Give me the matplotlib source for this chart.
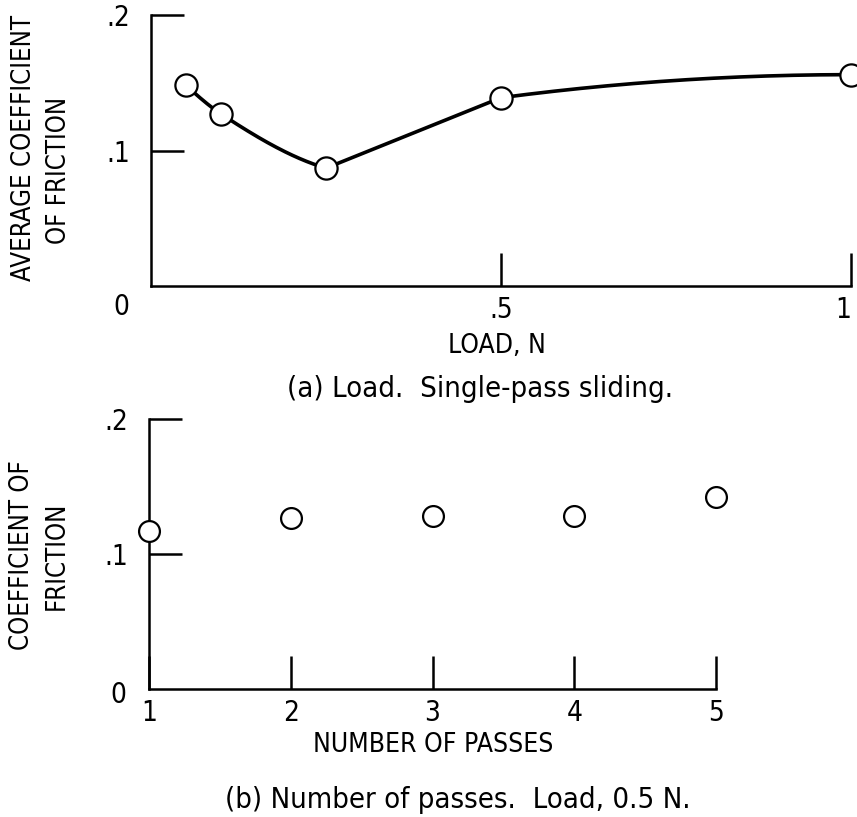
import numpy as np
import matplotlib.pyplot as plt
from matplotlib import font_manager

# (a) Load, single-pass sliding
load = [0.05, 0.1, 0.25, 0.5, 1.0]
mu_load = [0.148, 0.127, 0.087, 0.139, 0.156]

# (b) Number of passes, load 0.5 N
passes = [1, 2, 3, 4, 5]
mu_pass = [0.117, 0.127, 0.128, 0.128, 0.142]

names = {f.name for f in font_manager.fontManager.ttflist}
if 'Liberation Sans Narrow' in names:
    plt.rcParams['font.family'] = ['Liberation Sans Narrow', 'DejaVu Sans']
else:
    plt.rcParams['font.family'] = ['DejaVu Sans']
    plt.rcParams['font.stretch'] = 'condensed'
plt.rcParams['font.size'] = 20


def pchip(x, y, xs):
    x = np.asarray(x, float)
    y = np.asarray(y, float)
    h = np.diff(x)
    d = np.diff(y) / h
    n = len(x)
    m = np.zeros(n)
    for k in range(1, n - 1):
        if d[k - 1] * d[k] > 0:
            w1 = 2 * h[k] + h[k - 1]
            w2 = h[k] + 2 * h[k - 1]
            m[k] = (w1 + w2) / (w1 / d[k - 1] + w2 / d[k])

    def end(h0, h1, d0, d1):
        s = ((2 * h0 + h1) * d0 - h0 * d1) / (h0 + h1)
        if np.sign(s) != np.sign(d0):
            s = 0.0
        return s

    m[0] = end(h[0], h[1], d[0], d[1])
    m[-1] = end(h[-1], h[-2], d[-1], d[-2])
    i = np.clip(np.searchsorted(x, xs) - 1, 0, n - 2)
    t = (xs - x[i]) / h[i]
    h00 = 2 * t**3 - 3 * t**2 + 1
    h10 = t**3 - 2 * t**2 + t
    h01 = -2 * t**3 + 3 * t**2
    h11 = t**3 - t**2
    return h00 * y[i] + h10 * h[i] * m[i] + h01 * y[i + 1] + h11 * h[i] * m[i + 1]


# faired curve: smooth through the first three, straight to 0.5 N, levelling off to 1 N
xa = np.linspace(load[0], load[2], 80)
ya = pchip(load[:3], mu_load[:3], xa)
xb = np.linspace(load[2], load[3], 30)
yb = np.interp(xb, load[2:4], mu_load[2:4])
xc = np.linspace(load[3], load[4], 80)
yc = mu_load[4] - (mu_load[4] - mu_load[3]) * ((load[4] - xc) / (load[4] - load[3]))**2
curve_x = np.concatenate([xa, xb, xc])
curve_y = np.concatenate([ya, yb, yc])

fig = plt.figure(figsize=(8.57, 8.17), dpi=100)


def style(ax):
    for s in ['top', 'right']:
        ax.spines[s].set_visible(False)
    for s in ['left', 'bottom']:
        ax.spines[s].set_linewidth(1.8)
    ax.tick_params(axis='both', direction='in', width=1.8, length=24)
    ax.tick_params(axis='y', pad=15)


# ---- (a) ----
ax1 = fig.add_axes([0.1762, 0.6499, 0.8168, 0.3317])
ax1.plot(curve_x, curve_y, color='black', lw=2.6, zorder=2)
ax1.plot(load, mu_load, 'o', ms=16, mfc='white', mec='black', mew=1.6,
         zorder=3, clip_on=False)
ax1.set_xlim(0, 1)
ax1.set_ylim(0, 0.2)
ax1.set_xticks([0.5, 1])
ax1.set_xticklabels(['.5', '1'])
ax1.set_yticks([0.1, 0.2])
ax1.set_yticklabels(['.1', '.2'])
style(ax1)
ax1.tick_params(axis='x', pad=7)
ax1.get_xticklabels()[-1].set_horizontalalignment('right')
ax1.text(-0.043, -0.077, '0', transform=ax1.transAxes, ha='center', va='center')

fig.text(497 / 857, 1 - 346 / 817, 'LOAD, N', ha='center', va='center', fontsize=19)
fig.text(480 / 857, 1 - 389 / 817, '(a) Load.  Single-pass sliding.',
         ha='center', va='center', fontsize=21)
fig.text(24 / 857, 1 - 148 / 817, 'AVERAGE COEFFICIENT', rotation=90,
         ha='center', va='center', fontsize=18.5)
fig.text(59 / 857, 1 - 170 / 817, 'OF FRICTION', rotation=90,
         ha='center', va='center', fontsize=18.5)

# ---- (b) ----
ax2 = fig.add_axes([0.1739, 0.1567, 0.6616, 0.3304])
ax2.plot(passes, mu_pass, 'o', ms=15, mfc='white', mec='black', mew=1.6,
         zorder=3, clip_on=False)
ax2.set_xlim(1, 5)
ax2.set_ylim(0, 0.2)
ax2.set_xticks(passes)
ax2.set_xticklabels([str(p) for p in passes])
ax2.set_yticks([0.1, 0.2])
ax2.set_yticklabels(['.1', '.2'])
style(ax2)
ax2.tick_params(axis='x', pad=7)
ax2.text(-0.055, -0.022, '0', transform=ax2.transAxes, ha='center', va='center')

fig.text(433 / 857, 1 - 745 / 817, 'NUMBER OF PASSES', ha='center', va='center', fontsize=19)
fig.text(458 / 857, 1 - 800 / 817, '(b) Number of passes.  Load, 0.5 N.',
         ha='center', va='center', fontsize=21)
fig.text(22 / 857, 1 - 555 / 817, 'COEFFICIENT OF', rotation=90,
         ha='center', va='center', fontsize=18.5)
fig.text(57 / 857, 1 - 556 / 817, 'FRICTION', rotation=90,
         ha='center', va='center', fontsize=18.5)

fig.savefig('out.png', dpi=100)
